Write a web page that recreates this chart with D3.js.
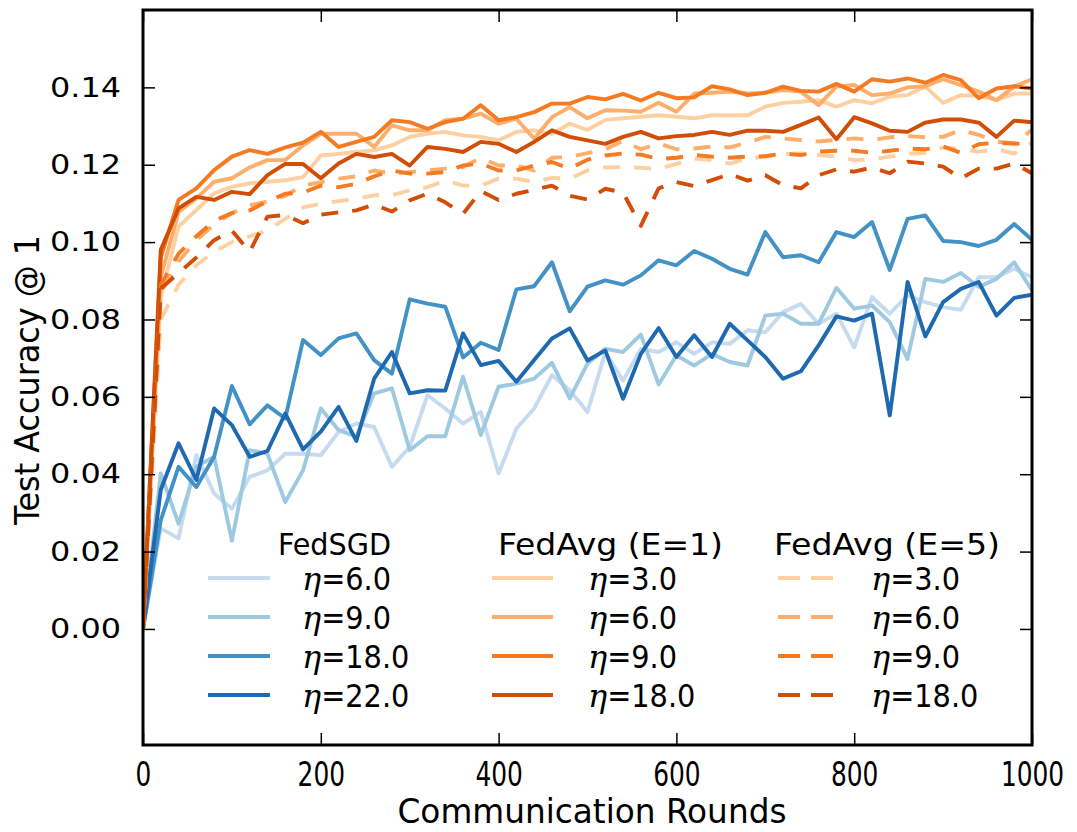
<!DOCTYPE html>
<html><head><meta charset="utf-8">
<script src="https://cdn.jsdelivr.net/npm/d3@7"></script>
<style>body{margin:0;background:#fff}svg{display:block}</style>
</head><body><svg id="c" width="1077" height="832"></svg>
<script>
// ---------- data ----------
const rounds = d3.range(0, 1001, 20);
const xTicks = [0, 200, 400, 600, 800, 1000];
const yTicks = [0.00, 0.02, 0.04, 0.06, 0.08, 0.10, 0.12, 0.14];

const fedsgd_6 = [0,0.026,0.0234,0.045,0.035,0.0311,0.0393,0.041,0.0453,0.0453,0.0449,0.0509,0.0531,0.0522,0.0419,0.0471,0.0604,0.057,0.0531,0.0561,0.0402,0.0518,0.057,0.0656,0.0617,0.0561,0.0715,0.0642,0.0724,0.0716,0.0741,0.0711,0.0741,0.0737,0.0772,0.0767,0.0819,0.084,0.0789,0.0815,0.0728,0.0858,0.0815,0.0862,0.0845,0.0832,0.0825,0.0909,0.0909,0.0931,0.0909];
const fedsgd_9 = [0,0.0402,0.0272,0.042,0.0445,0.0228,0.0462,0.0453,0.0328,0.041,0.057,0.0514,0.0497,0.0609,0.0622,0.0462,0.0498,0.0498,0.0652,0.0501,0.0626,0.0634,0.0647,0.0688,0.0596,0.0686,0.0724,0.0716,0.0761,0.0632,0.0707,0.0681,0.0711,0.069,0.0681,0.081,0.0815,0.0789,0.0789,0.0882,0.0828,0.0836,0.0793,0.0698,0.0905,0.0897,0.092,0.0884,0.0905,0.0948,0.0875];
const fedsgd_18 = [0,0.0281,0.0419,0.0367,0.0445,0.0628,0.0529,0.0578,0.0544,0.0747,0.0708,0.0751,0.0764,0.0695,0.066,0.0852,0.0841,0.0833,0.0702,0.074,0.0721,0.0878,0.0886,0.0948,0.0821,0.0885,0.0901,0.089,0.0914,0.0953,0.094,0.0977,0.0957,0.0931,0.0916,0.1026,0.0961,0.0966,0.0948,0.1026,0.1013,0.1052,0.0928,0.106,0.1069,0.1003,0.10,0.099,0.1006,0.1047,0.1006];
const fedsgd_22 = [0,0.036,0.048,0.0385,0.057,0.0527,0.0445,0.046,0.0557,0.0464,0.051,0.0574,0.0486,0.0647,0.0716,0.0609,0.0617,0.0616,0.0764,0.0682,0.0693,0.0639,0.0695,0.0751,0.0777,0.0694,0.072,0.0595,0.0711,0.0778,0.0703,0.0759,0.0703,0.0789,0.0746,0.0703,0.0647,0.0666,0.0733,0.0808,0.0797,0.0815,0.0552,0.0897,0.0756,0.0845,0.0879,0.0897,0.081,0.0856,0.0864];

const avg1_3 = [0,0.086,0.104,0.1083,0.1126,0.1143,0.1152,0.1156,0.116,0.1168,0.1224,0.1228,0.1233,0.1237,0.125,0.1272,0.128,0.1285,0.1276,0.1272,0.1263,0.1285,0.1289,0.128,0.1306,0.129,0.1316,0.132,0.1324,0.1328,0.1324,0.132,0.1328,0.1328,0.1328,0.135,0.136,0.1363,0.1367,0.135,0.1367,0.1359,0.1376,0.138,0.1402,0.136,0.138,0.1378,0.1367,0.1384,0.1384];
const avg1_6 = [0,0.091,0.1078,0.1113,0.1156,0.1165,0.1193,0.1212,0.1212,0.125,0.128,0.128,0.128,0.1246,0.1302,0.1289,0.1289,0.1315,0.1319,0.1332,0.1306,0.1319,0.1267,0.1323,0.1349,0.132,0.1341,0.134,0.1337,0.136,0.1337,0.1384,0.1386,0.1389,0.1384,0.1386,0.1393,0.1389,0.1354,0.1402,0.1406,0.138,0.1384,0.14,0.1403,0.1421,0.1406,0.1389,0.1367,0.1402,0.1421];
const avg1_9 = [0,0.096,0.1109,0.1139,0.1186,0.1221,0.1238,0.1228,0.1245,0.1257,0.1285,0.1246,0.1259,0.1272,0.1315,0.131,0.1293,0.131,0.1319,0.1354,0.1315,0.1323,0.1336,0.1358,0.1358,0.1375,0.1369,0.1383,0.1366,0.1386,0.1372,0.1374,0.1403,0.1395,0.138,0.1386,0.1402,0.1391,0.1389,0.1409,0.1389,0.1421,0.1415,0.1423,0.1412,0.1432,0.1419,0.1372,0.1397,0.1403,0.1397];
const avg1_18 = [0,0.098,0.1087,0.1117,0.1109,0.113,0.1124,0.1173,0.1202,0.1202,0.1165,0.1203,0.1228,0.122,0.1228,0.1198,0.1246,0.1241,0.1233,0.1259,0.1254,0.1233,0.1259,0.1289,0.1272,0.1263,0.1254,0.1272,0.1285,0.1268,0.1274,0.1277,0.1285,0.1277,0.1288,0.1288,0.1285,0.1303,0.1322,0.1266,0.1323,0.1307,0.1288,0.1285,0.1309,0.1317,0.1317,0.1309,0.1272,0.1314,0.131];

const avg5_3 = [0,0.080,0.089,0.094,0.0975,0.100,0.1015,0.103,0.106,0.109,0.1099,0.1106,0.1112,0.1121,0.1121,0.1134,0.1142,0.1159,0.1146,0.1146,0.1164,0.1164,0.1155,0.1166,0.1164,0.1185,0.1193,0.1194,0.1192,0.1189,0.1202,0.1216,0.1212,0.1203,0.1216,0.1221,0.1228,0.1229,0.1225,0.1221,0.1212,0.1214,0.1221,0.1228,0.1231,0.1245,0.124,0.1234,0.124,0.1229,0.1257];
const avg5_6 = [0,0.087,0.095,0.1005,0.1045,0.1075,0.1095,0.1105,0.112,0.1146,0.1155,0.1164,0.117,0.1185,0.1177,0.1181,0.1185,0.119,0.1194,0.1218,0.1198,0.1198,0.1185,0.1218,0.122,0.123,0.124,0.1262,0.124,0.1255,0.124,0.1242,0.1247,0.1245,0.1257,0.1272,0.1268,0.1264,0.126,0.1264,0.1268,0.1264,0.1271,0.1274,0.1271,0.1272,0.129,0.1277,0.126,0.1255,0.129];
const avg5_9 = [0,0.089,0.097,0.1015,0.1055,0.1075,0.1082,0.1105,0.1125,0.1128,0.1146,0.1142,0.1151,0.117,0.1185,0.1177,0.1177,0.1181,0.1198,0.1203,0.1185,0.1185,0.1198,0.1207,0.119,0.1213,0.1224,0.1229,0.1226,0.1215,0.1218,0.1225,0.1221,0.1218,0.1221,0.1222,0.1229,0.1225,0.1234,0.1236,0.1236,0.1231,0.1236,0.1242,0.124,0.1247,0.1231,0.1253,0.1257,0.1255,0.1251];
const avg5_18 = [0,0.088,0.092,0.096,0.1005,0.103,0.0975,0.1066,0.107,0.1049,0.1071,0.1077,0.1082,0.1097,0.1079,0.1108,0.1125,0.1103,0.1073,0.1132,0.1109,0.1125,0.1135,0.1146,0.112,0.111,0.1138,0.1128,0.1042,0.1139,0.1155,0.1145,0.116,0.1176,0.1159,0.1173,0.1147,0.1139,0.1173,0.1188,0.1182,0.1193,0.1178,0.1208,0.1203,0.1195,0.1165,0.119,0.119,0.1203,0.1178];

const groupTitles = ["FedSGD", "FedAvg (E=1)", "FedAvg (E=5)"];
const fedsgdLabels = ["6.0", "9.0", "18.0", "22.0"];
const avgLabels = ["3.0", "6.0", "9.0", "18.0"];
const blueColors = ["#c6dbef", "#9ecae1", "#4292c6", "#1f69b0"];
const orangeColors = ["#fdd0a2", "#fdae6b", "#f57a22", "#d24d05"];

const groups = [
  {title: groupTitles[0], labels: fedsgdLabels, colors: blueColors, dashed: false, data: [fedsgd_6, fedsgd_9, fedsgd_18, fedsgd_22]},
  {title: groupTitles[1], labels: avgLabels, colors: orangeColors, dashed: false, data: [avg1_3, avg1_6, avg1_9, avg1_18]},
  {title: groupTitles[2], labels: avgLabels, colors: orangeColors, dashed: true, data: [avg5_3, avg5_6, avg5_9, avg5_18]}
];

// ---------- layout ----------
const L = 143, R = 1032, T = 10, B = 745;
const svg = d3.select("#c");
const x = d3.scaleLinear().domain([0, 1000]).range([L, R]);
const y = d3.scaleLinear().domain([-0.03, 0.16]).range([B, T]);
const FONT = "DejaVu Sans Condensed, DejaVu Sans";

svg.append("defs").append("clipPath").attr("id", "clip")
  .append("rect").attr("x", L).attr("y", T).attr("width", R - L).attr("height", B - T);

const line = d3.line().x((d, i) => x(rounds[i])).y(d => y(d));
const plot = svg.append("g").attr("clip-path", "url(#clip)");
const LW = 3.9;
const DASH = "17,14";
groups.forEach(g => {
  g.data.forEach((vals, k) => {
    plot.append("path").datum(vals)
      .attr("d", line)
      .attr("fill", "none")
      .attr("stroke", g.colors[k])
      .attr("stroke-width", LW)
      .attr("stroke-linejoin", "round")
      .attr("stroke-dasharray", g.dashed ? DASH : null);
  });
});

// ---------- axes ----------
const tickLen = 12;
const axB = svg.append("g").attr("transform", `translate(0,${B})`)
  .call(d3.axisBottom(x).tickValues(xTicks).tickSizeInner(-tickLen).tickSizeOuter(0).tickPadding(18).tickFormat(d3.format("d")));
const axT = svg.append("g").attr("transform", `translate(0,${T})`)
  .call(d3.axisTop(x).tickValues(xTicks).tickSizeInner(-tickLen).tickSizeOuter(0).tickFormat(""));
const axL = svg.append("g").attr("transform", `translate(${L},0)`)
  .call(d3.axisLeft(y).tickValues(yTicks).tickSizeInner(-tickLen).tickSizeOuter(0).tickPadding(22).tickFormat(d3.format(".2f")));
const axR = svg.append("g").attr("transform", `translate(${R},0)`)
  .call(d3.axisRight(y).tickValues(yTicks).tickSizeInner(-tickLen).tickSizeOuter(0).tickFormat(""));
[axB, axT, axL, axR].forEach(a => {
  a.select(".domain").remove();
  a.selectAll(".tick line").attr("stroke", "#000").attr("stroke-width", 1.5);
});
axB.selectAll(".tick text")
  .attr("font-family", FONT)
  .attr("font-size", 33).attr("fill", "#000").attr("dy", "0.71em")
  .attr("textLength", d => String(d).length * 15.8).attr("lengthAdjust", "spacingAndGlyphs");
axL.selectAll(".tick text")
  .attr("font-family", "DejaVu Sans")
  .attr("font-size", 27).attr("fill", "#000")
  .attr("textLength", 71).attr("lengthAdjust", "spacingAndGlyphs");

svg.append("rect").attr("x", L).attr("y", T).attr("width", R - L).attr("height", B - T)
  .attr("fill", "none").attr("stroke", "#000").attr("stroke-width", 3);

// axis titles
svg.append("text").attr("x", 592).attr("y", 823)
  .attr("text-anchor", "middle").attr("font-family", FONT)
  .attr("font-size", 33).attr("fill", "#000")
  .attr("textLength", 389).attr("lengthAdjust", "spacingAndGlyphs")
  .text("Communication Rounds");
svg.append("text").attr("transform", "translate(39,380) rotate(-90)")
  .attr("text-anchor", "middle").attr("font-family", FONT)
  .attr("font-size", 33).attr("fill", "#000")
  .attr("textLength", 290).attr("lengthAdjust", "spacingAndGlyphs")
  .text("Test Accuracy @ 1");

// ---------- legend ----------
const legCols = [
  {hx0: 208, hx1: 270, tx: 302, titleX: 278, titleW: 113},
  {hx0: 492, hx1: 553, tx: 588, titleX: 498, titleW: 225},
  {hx0: 778, hx1: 833, tx: 871, titleX: 774, titleW: 226}
];
const rowY = [578, 617, 656, 695];
const leg = svg.append("g");
groups.forEach((g, ci) => {
  const c = legCols[ci];
  leg.append("text").attr("x", c.titleX).attr("y", 555)
    .attr("font-family", FONT).attr("font-size", 30)
    .attr("textLength", c.titleW).attr("lengthAdjust", "spacingAndGlyphs")
    .attr("fill", "#000").text(g.title);
  g.labels.forEach((lab, k) => {
    leg.append("line").attr("x1", c.hx0).attr("x2", c.hx1).attr("y1", rowY[k]).attr("y2", rowY[k])
      .attr("stroke", g.colors[k]).attr("stroke-width", LW + 0.3)
      .attr("stroke-dasharray", g.dashed ? "22,11" : null);
    const t = leg.append("text").attr("x", c.tx).attr("y", rowY[k] + 12)
      .attr("font-family", FONT).attr("font-size", 32).attr("fill", "#000");
    t.append("tspan").attr("font-family", "DejaVu Serif").attr("font-style", "italic").text("η");
    t.append("tspan").text("=" + lab);
  });
});
</script></body></html>
